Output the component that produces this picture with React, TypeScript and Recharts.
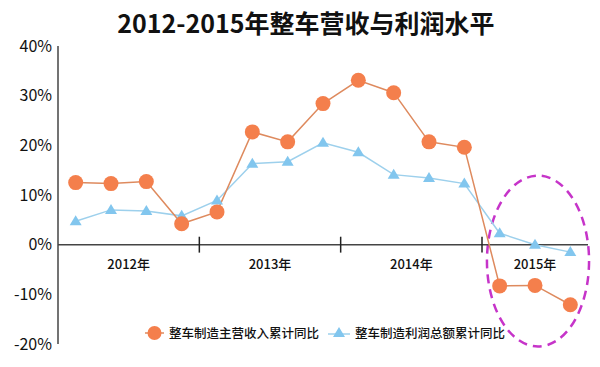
import React from "react";
import {
  LineChart,
  Line,
  XAxis,
  YAxis,
  ReferenceLine,
  ReferenceArea,
} from "recharts";

// quarterly points, 2012Q1 .. 2015Q3
const quarters = [
  "2012Q1", "2012Q2", "2012Q3", "2012Q4",
  "2013Q1", "2013Q2", "2013Q3", "2013Q4",
  "2014Q1", "2014Q2", "2014Q3", "2014Q4",
  "2015Q1", "2015Q2", "2015Q3",
];
const revenueGrowth = [12.5, 12.3, 12.7, 4.2, 6.6, 22.7, 20.7, 28.4, 33.1, 30.6, 20.7, 19.6, -8.3, -8.2, -12.1];
const profitGrowth = [4.7, 7.0, 6.8, 5.8, 8.9, 16.3, 16.7, 20.5, 18.6, 14.1, 13.4, 12.3, 2.3, 0, -1.5];

const years = ["2012年", "2013年", "2014年", "2015年"];
const yearSpans: [number, number][] = [[0, 4], [4, 8], [8, 12], [12, 15]];
const yTicks = [-20, -10, 0, 10, 20, 30, 40];

const seriesNames = ["整车制造主营收入累计同比", "整车制造利润总额累计同比"];

const ORANGE = "#F47F4C";
const ORANGE_LINE = "#DE8A5E";
const BLUE = "#82C6EE";
const BLUE_LINE = "#9DD0EC";
const FONT = '"Noto Sans CJK SC", "Noto Sans", sans-serif';

const data = quarters.map((q, i) => ({
  q,
  x: i + 0.5,
  revenue: revenueGrowth[i],
  profit: profitGrowth[i],
}));

const Triangle = (props: any) => {
  const { cx, cy } = props;
  if (cx == null || cy == null) return null;
  return (
    <polygon
      points={`${cx},${cy - 6} ${cx - 6},${cy + 4} ${cx + 6},${cy + 4}`}
      fill={BLUE}
    />
  );
};

const Ellipse = (props: any) => {
  const { x, y, width, height } = props;
  return (
    <ellipse
      cx={x + width / 2}
      cy={y + height / 2}
      rx={Math.abs(width) / 2}
      ry={Math.abs(height) / 2}
      fill="none"
      stroke="#C634C9"
      strokeWidth={2.5}
      strokeDasharray="9 6"
    />
  );
};

export default function App() {
  return (
    <div style={{ position: "absolute", left: 0, top: 0, width: 600, height: 367, background: "#fff", fontFamily: FONT }}>
      <div
        style={{
          position: "absolute",
          top: 6,
          left: 6,
          width: 600,
          textAlign: "center",
          fontSize: 25,
          fontWeight: 700,
          color: "#111",
          lineHeight: "32px",
        }}
      >
        2012-2015年整车营收与利润水平
      </div>

      <LineChart
        width={600}
        height={367}
        data={data}
        margin={{ top: 46, right: 12, bottom: 23, left: 0 }}
      >
        <XAxis dataKey="x" type="number" domain={[0, 15]} hide />
        <YAxis
          domain={[-20, 40]}
          ticks={yTicks}
          width={58}
          tickLine={false}
          tickMargin={0}
          axisLine={{ stroke: "#444", strokeWidth: 1.5 }}
          tickFormatter={(v) => `${v}%`}
          tick={{ fontSize: 16, fill: "#111", fontFamily: FONT }}
          interval={0}
        />
        <ReferenceLine y={0} stroke="#444" strokeWidth={1.5} />
        {yearSpans.slice(1).map(([start]) => (
          <ReferenceLine
            key={start}
            segment={[{ x: start, y: -1.6 }, { x: start, y: 1.6 }]}
            stroke="#222"
            strokeWidth={1.5}
          />
        ))}
        {years.map((label, i) => (
          <ReferenceArea
            key={label}
            x1={yearSpans[i][0]}
            x2={yearSpans[i][1]}
            y1={-6}
            y2={-2}
            fill="none"
            stroke="none"
            label={{ value: label, position: "center", fontSize: 13, fill: "#111", fontFamily: FONT, fontWeight: 500 }}
          />
        ))}
        <Line
          dataKey="profit"
          type="linear"
          stroke={BLUE_LINE}
          strokeWidth={1.5}
          dot={<Triangle />}
          activeDot={false}
          isAnimationActive={false}
        />
        <Line
          dataKey="revenue"
          type="linear"
          stroke={ORANGE_LINE}
          strokeWidth={1.5}
          dot={{ r: 7.5, fill: ORANGE, stroke: "none" }}
          activeDot={false}
          isAnimationActive={false}
        />
        <ReferenceArea
          x1={12.14}
          x2={15.03}
          y1={-20.5}
          y2={13.9}
          ifOverflow="visible"
          shape={<Ellipse />}
        />
      </LineChart>

      <div
        style={{
          position: "absolute",
          top: 324,
          left: 144,
          display: "flex",
          alignItems: "center",
          fontSize: 12.5,
          fontWeight: 500,
          color: "#111",
          lineHeight: "18px",
        }}
      >
        <svg width={22} height={18}>
          <line x1={1} y1={9} x2={20} y2={9} stroke={ORANGE_LINE} strokeWidth={1.5} />
          <circle cx={10.5} cy={9} r={7} fill={ORANGE} />
        </svg>
        <span style={{ marginLeft: 3 }}>{seriesNames[0]}</span>
        <svg width={24} height={18} style={{ marginLeft: 8 }}>
          <line x1={1} y1={10} x2={23} y2={10} stroke={BLUE_LINE} strokeWidth={1.5} />
          <polygon points="12,3 6,13 18,13" fill={BLUE} />
        </svg>
        <span style={{ marginLeft: 4 }}>{seriesNames[1]}</span>
      </div>
    </div>
  );
}
